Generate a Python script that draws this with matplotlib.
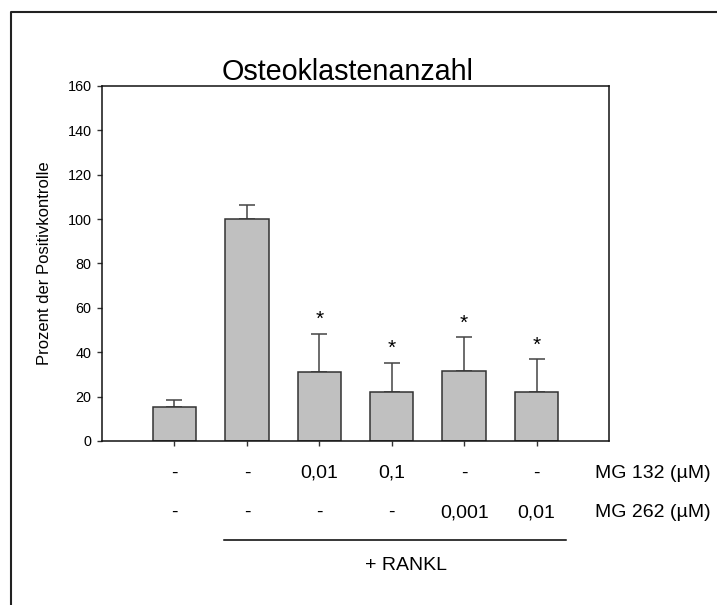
import matplotlib
matplotlib.use('Agg')
import matplotlib.pyplot as plt
import matplotlib.transforms as mtransforms
from matplotlib.lines import Line2D

plt.rcParams['font.family'] = ['Liberation Sans', 'DejaVu Sans']

# Data
positions = [1, 2, 3, 4, 5, 6]
values = [15.2, 99.9, 31.0, 21.9, 31.4, 22.1]
errors = [3.1, 6.6, 17.4, 13.4, 15.5, 15.0]
significant = [False, False, True, True, True, True]
mg132 = ['-', '-', '0,01', '0,1', '-', '-']
mg262 = ['-', '-', '-', '-', '0,001', '0,01']
row_labels = ['MG 132 (µM)', 'MG 262 (µM)']
yticks = [0, 20, 40, 60, 80, 100, 120, 140, 160]

fig = plt.figure(figsize=(7.17, 6.05), dpi=100)
ax = fig.add_axes([0.1423, 0.2711, 0.8494 - 0.1423, 0.8579 - 0.2711])

ax.bar(positions, values, width=0.6, color='#c0c0c0', edgecolor='#333333',
       linewidth=1.1, zorder=2)
ax.errorbar(positions, values, yerr=[[0] * len(errors), errors], fmt='none',
            ecolor='#444444', elinewidth=1.1, capsize=5.5, capthick=1.1, zorder=1)

for x, v, e, s in zip(positions, values, errors, significant):
    if s:
        ax.annotate('*', (x, v + e), xytext=(0, 6), textcoords='offset points',
                    ha='center', va='baseline', fontsize=15)

ax.set_xlim(0, 7)
ax.set_ylim(0, 160)
ax.set_yticks(yticks)
ax.set_xticks(positions)
ax.set_xticklabels([])
ax.tick_params(axis='both', direction='out', length=3.6, width=1, color='#333333',
               labelsize=10.4)
ax.tick_params(axis='y', pad=4)
for sp in ax.spines.values():
    sp.set_linewidth(1.1)
    sp.set_color('#111111')
ax.set_ylabel('Prozent der Positivkontrolle', fontsize=12, labelpad=11)

# title
fig.text(348 / 717, 1 - 72 / 605, 'Osteoklastenanzahl', ha='center', va='center',
         fontsize=20.7)

# condition rows below the axes
trans = mtransforms.blended_transform_factory(ax.transData, fig.transFigure)
row_y = [1 - 473 / 605, 1 - 512.5 / 605]
for ry, row in zip(row_y, [mg132, mg262]):
    for x, lab in zip(positions, row):
        ax.text(x, ry, lab, transform=trans, ha='center', va='center', fontsize=14)
for ry, lab in zip(row_y, row_labels):
    fig.text(595 / 717, ry, lab, ha='left', va='center', fontsize=14)

# RANKL bracket
line_y = 1 - 540 / 605
ax.add_line(Line2D([1.69, 6.4], [line_y, line_y], transform=trans, color='black',
                   linewidth=1.1, clip_on=False))
ax.text(4.2, 1 - 565 / 605, '+ RANKL', transform=trans, ha='center', va='center',
        fontsize=14)

# outer frame (left and top)
bx, by = 11 / 717, 1 - 12 / 605
fig.add_artist(Line2D([bx, bx, 1.0], [0.0, by, by], transform=fig.transFigure,
                      color='#222222', linewidth=1.5))

fig.savefig('out.png', dpi=100)
